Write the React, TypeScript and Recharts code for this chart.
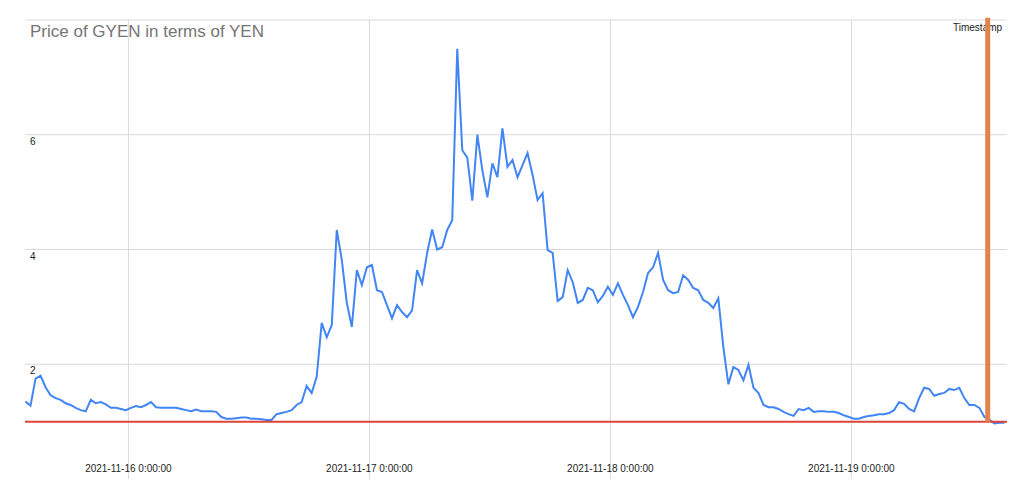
import React from 'react';
import { LineChart, Line, XAxis, YAxis, ReferenceLine } from 'recharts';

const TITLE = 'Price of GYEN in terms of YEN';
const LEGEND_LABEL = 'Timestamp';

// time axis: hours relative to 2021-11-16 0:00:00, one reading every half hour
const START_HOUR = -10.25;
const STEP_HOURS = 0.5;

const gyenPrice = [
  1.35, 1.28, 1.75, 1.8, 1.6, 1.46, 1.41, 1.38, 1.32, 1.29,
  1.24, 1.2, 1.18, 1.38, 1.32, 1.34, 1.3, 1.24, 1.24, 1.22,
  1.2, 1.24, 1.27, 1.25, 1.29, 1.34, 1.25, 1.24, 1.24, 1.24,
  1.24, 1.22, 1.2, 1.18, 1.21, 1.18, 1.18, 1.18, 1.17, 1.08,
  1.05, 1.05, 1.06, 1.07, 1.07, 1.05, 1.05, 1.04, 1.03, 1.03,
  1.13, 1.15, 1.17, 1.2, 1.29, 1.34, 1.62, 1.5, 1.78, 2.72,
  2.47, 2.68, 4.34, 3.82, 3.07, 2.65, 3.64, 3.38, 3.69, 3.73,
  3.29, 3.26, 3.03, 2.8, 3.03, 2.91, 2.82, 2.94, 3.64, 3.41,
  3.94, 4.35, 4.0, 4.04, 4.34, 4.51, 7.5, 5.73, 5.6, 4.85,
  6.0, 5.38, 4.91, 5.5, 5.26, 6.11, 5.44, 5.56, 5.26, 5.47,
  5.68, 5.3, 4.86, 4.98, 3.99, 3.94, 3.1, 3.17, 3.64, 3.43,
  3.07, 3.12, 3.33, 3.29, 3.08, 3.19, 3.35, 3.21, 3.41, 3.21,
  3.03, 2.82, 3.0, 3.26, 3.59, 3.69, 3.94, 3.47, 3.29, 3.24,
  3.26, 3.55, 3.47, 3.33, 3.29, 3.12, 3.07, 2.98, 3.15, 2.3,
  1.65, 1.95, 1.9, 1.72, 1.99, 1.59, 1.5, 1.29, 1.25, 1.25,
  1.22, 1.17, 1.13, 1.1, 1.22, 1.2, 1.24, 1.17, 1.18, 1.18,
  1.17, 1.17, 1.15, 1.11, 1.08, 1.05, 1.05, 1.08, 1.1, 1.11,
  1.13, 1.13, 1.15, 1.2, 1.34, 1.31, 1.22, 1.18, 1.41, 1.59,
  1.57, 1.45, 1.48, 1.5, 1.57, 1.55, 1.59, 1.41, 1.29, 1.29,
  1.24, 1.08, 1.03, 0.97, 0.98, 0.98,
];

const xTickHours = [0, 24, 48, 72];
const xTickLabels = ['2021-11-16 0:00:00', '2021-11-17 0:00:00', '2021-11-18 0:00:00', '2021-11-19 0:00:00'];
const yTicks = [2, 4, 6, 8];
const yTickLabels = ['2', '4', '6', ''];
const X_DOMAIN = [-10.3, 87.5];
const Y_DOMAIN = [0, 8];
const PEG = 1;
const TIMESTAMP_HOUR = 85.58;
const TIMESTAMP_RANGE = [1, 8.04];

const data = gyenPrice.map((p, i) => ({ t: START_HOUR + i * STEP_HOURS, price: p }));

const FONT = '"Liberation Sans", Arial, sans-serif';
const GRID = '#d9d9d9';

const XTick = (props: any) => {
  const { x, payload } = props;
  const idx = xTickHours.indexOf(payload.value);
  return (
    <text x={x} y={471.5} textAnchor="middle" fontSize={10} fill="#222" fontFamily={FONT}>
      {idx >= 0 ? xTickLabels[idx] : ''}
    </text>
  );
};

const YTick = (props: any) => {
  const { y, payload } = props;
  const idx = yTicks.indexOf(payload.value);
  const label = idx >= 0 ? yTickLabels[idx] : '';
  if (!label) return <g />;
  return (
    <text x={30} y={y + 10} textAnchor="start" fontSize={10} fill="#222" fontFamily={FONT}>
      {label}
    </text>
  );
};

export default function App() {
  return (
    <div style={{ position: 'absolute', left: 0, top: 0, width: 1024, height: 495, background: '#fff', overflow: 'hidden' }}>
      <div style={{ position: 'absolute', left: 30, top: 23, fontSize: 17, lineHeight: '17px', color: '#757575', fontFamily: FONT, whiteSpace: 'nowrap' }}>
        {TITLE}
      </div>
      <div style={{ position: 'absolute', left: 953, top: 23, fontSize: 10, lineHeight: '10px', color: '#222', fontFamily: FONT, whiteSpace: 'nowrap' }}>
        {LEGEND_LABEL}
      </div>
      <div style={{ position: 'absolute', left: 0, top: 0 }}>
        <LineChart width={1024} height={495} data={data} margin={{ top: 20, right: 17, bottom: 0, left: 0 }}>
          <XAxis
            dataKey="t"
            type="number"
            domain={X_DOMAIN}
            ticks={xTickHours}
            interval={0}
            allowDataOverflow
            height={16}
            axisLine={false}
            tickLine={false}
            tick={<XTick />}
          />
          <YAxis
            type="number"
            domain={Y_DOMAIN}
            ticks={yTicks}
            interval={0}
            allowDataOverflow
            width={25}
            axisLine={false}
            tickLine={false}
            tick={<YTick />}
          />
          {yTicks.map((v) => (
            <ReferenceLine key={'h' + v} y={v} stroke={GRID} strokeWidth={1} />
          ))}
          {xTickHours.map((v) => (
            <ReferenceLine key={'v' + v} x={v} stroke={GRID} strokeWidth={1} />
          ))}
          <Line
            type="linear"
            dataKey="price"
            stroke="#4285f4"
            strokeWidth={2}
            dot={false}
            activeDot={false}
            isAnimationActive={false}
          />
          <ReferenceLine y={PEG} stroke="#db4437" strokeWidth={2} />
          <ReferenceLine
            segment={[
              { x: TIMESTAMP_HOUR, y: TIMESTAMP_RANGE[0] },
              { x: TIMESTAMP_HOUR, y: TIMESTAMP_RANGE[1] },
            ]}
            stroke="#e1834a"
            strokeWidth={5}
            ifOverflow="visible"
          />
        </LineChart>
      </div>
    </div>
  );
}
